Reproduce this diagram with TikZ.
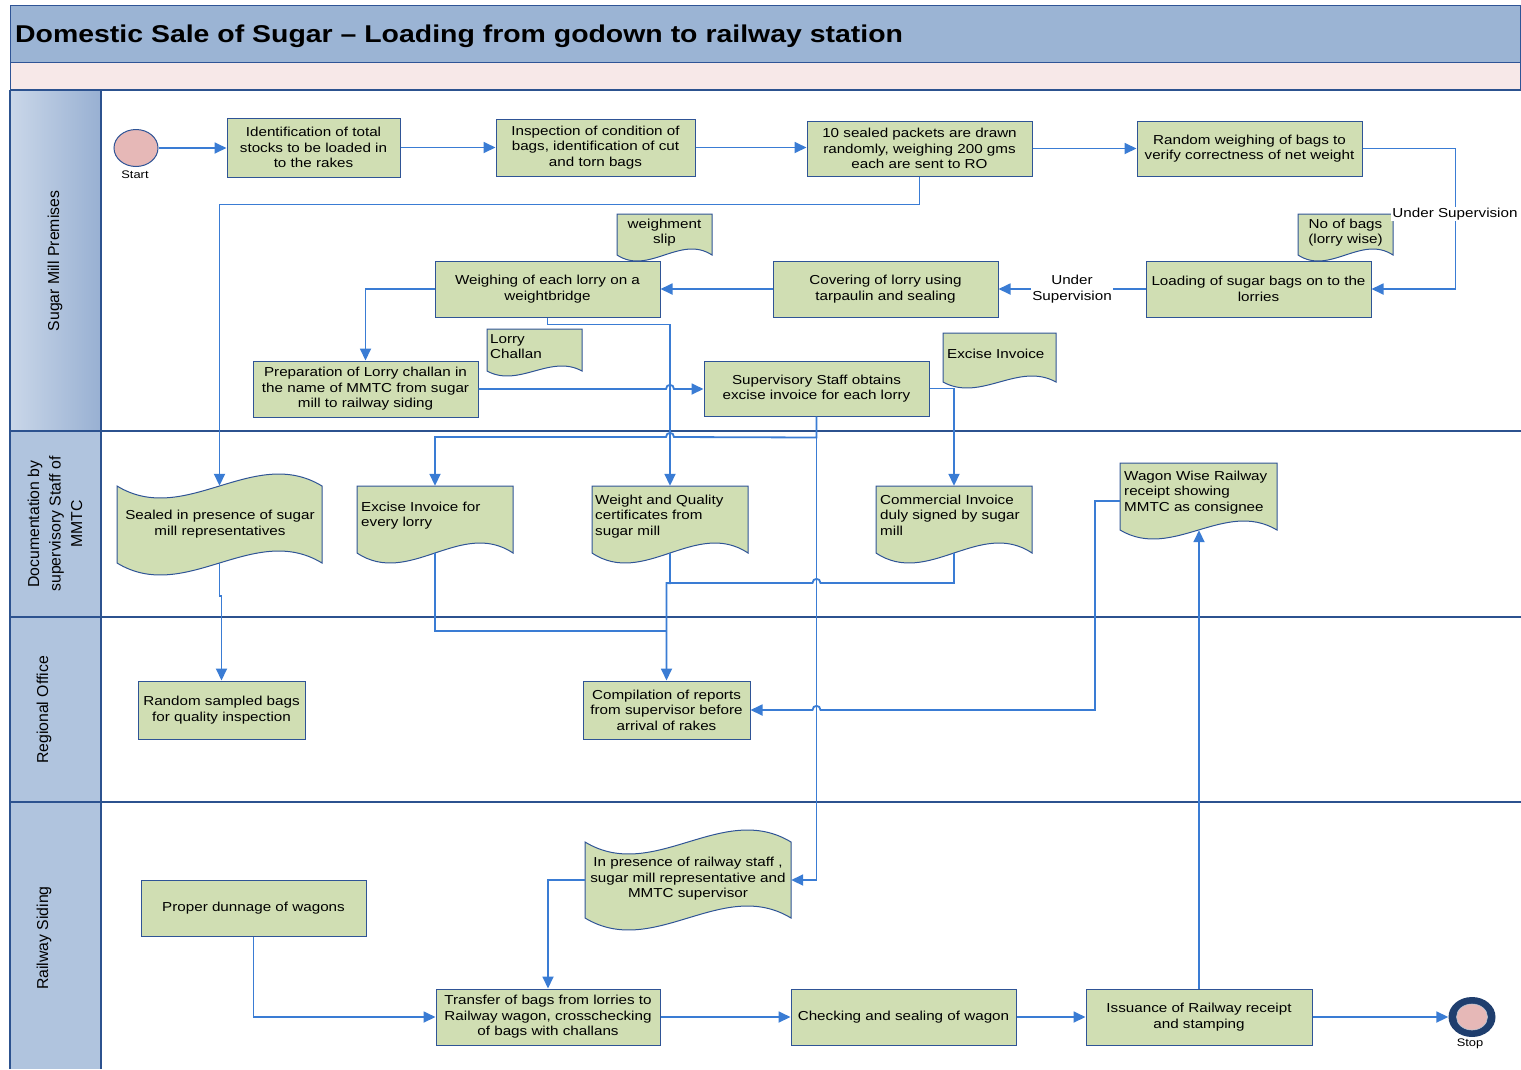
\documentclass[tikz,border=0pt]{standalone}
\usepackage{fontspec}
\setmainfont{Liberation Sans}[FakeStretch=1.17]
\newfontfamily\lanefont{Liberation Sans}
\usetikzlibrary{arrows.meta,fit,calc,shapes.geometric}

\definecolor{boxfill}{RGB}{208,222,179}
\definecolor{boxline}{RGB}{47,84,150}
\definecolor{flow}{RGB}{58,124,212}
\definecolor{lanehead}{RGB}{176,196,222}
\definecolor{laneheadlight}{RGB}{202,215,233}
\definecolor{laneheaddark}{RGB}{152,176,210}
\definecolor{laneline}{RGB}{44,82,143}
\definecolor{titlefill}{RGB}{155,180,212}
\definecolor{bandfill}{RGB}{247,232,232}
\definecolor{startfill}{RGB}{230,184,183}
\definecolor{stopring}{RGB}{31,62,110}

% process box from its corners (name, x1, y1, x2, y2, text)
\newcommand{\procbox}[6]{%
  \pgfmathsetmacro\bxw{#4-#2}%
  \pgfmathsetmacro\bxh{#5-#3}%
  \node[box, minimum width=\bxw pt, minimum height=\bxh pt] (#1) at ({(#2+#4)/2},{(#3+#5)/2}) {#6};
}
% document symbol: flat top, wavy bottom (name, x1, y1, x2, corner y, wave amplitude)
\newcommand{\docbody}[6]{%
  \path[docshape] (#2,#3) -- (#4,#3) -- (#4,#5)
    .. controls ({#2+2*(#4-#2)/3},{#5-3.46*#6}) and ({#2+(#4-#2)/3},{#5+3.46*#6}) .. (#2,#5) -- cycle;
  \node[area, fit={(#2,#3) (#4,#5)}] (#1) {};
}
% punched tape symbol: wavy top and bottom (name, x1, top y, x2, bottom y, amplitude)
\newcommand{\tapebody}[6]{%
  \path[docshape] (#2,#3)
    .. controls ({#2+(#4-#2)/3},{#3+3.46*#6}) and ({#2+2*(#4-#2)/3},{#3-3.46*#6}) .. (#4,#3)
    -- (#4,#5)
    .. controls ({#2+2*(#4-#2)/3},{#5-3.46*#6}) and ({#2+(#4-#2)/3},{#5+3.46*#6}) .. (#2,#5) -- cycle;
  \node[area, fit={(#2,#3) (#4,#5)}] (#1) {};
}

\begin{document}
\begin{tikzpicture}[x=1pt,y=-1pt,
  txt/.style={font=\fontsize{13}{15.5}\selectfont, text=black},
  box/.style={txt, draw=boxline, line width=1pt, fill=boxfill, inner sep=0pt, align=center},
  area/.style={inner sep=0pt},
  docshape/.style={draw=boxline, line width=1pt, fill=boxfill},
  doctext/.style={txt, inner sep=0pt, align=left, anchor=north west},
  doccenter/.style={txt, inner sep=0pt, align=center},
  conn/.style={draw=flow, line width=1.8pt, -{Triangle[length=12pt,width=11pt]}},
  link/.style={draw=flow, line width=1.8pt},
  lanesep/.style={draw=laneline, line width=2.2pt},
  lbl/.style={txt, fill=white, inner sep=1pt, align=center},
  small/.style={font=\fontsize{11}{13}\selectfont, inner sep=0pt},
  lanelabel/.style={rotate=90, font=\lanefont\fontsize{15.8}{21.5}\selectfont, align=center, inner sep=0pt},
  ]
\useasboundingbox (0,0) rectangle (1521,1069);
\clip (0,0) rectangle (1521,1069);

% heading band
\path[fill=titlefill, draw=boxline, line width=1pt] (10,5) rectangle (1520,62);
\node[anchor=base west, inner sep=0pt, font=\bfseries\fontsize{24.3}{28}\selectfont] (title) at (15,42)
  {Domestic Sale of Sugar – Loading from godown to railway station};
\path[fill=bandfill, draw=boxline, line width=0.8pt] (10,62) rectangle (1520,90);

% swimlane headers
\shade[left color=laneheadlight, right color=laneheaddark] (10,90) rectangle (101,431);
\fill[lanehead] (10,431) rectangle (101,1069);
\draw[lanesep] (10,90) -- (1521,90);
\draw[lanesep] (10,431) -- (1521,431);
\draw[lanesep] (10,617) -- (1521,617);
\draw[lanesep] (10,802) -- (1521,802);
\draw[lanesep] (10,90) -- (10,1069);
\draw[lanesep] (101,90) -- (101,1069);

\node[lanelabel] (lane1) at (55,261) {Sugar Mill Premises};
\node[lanelabel] (lane2) at (55,524) {Documentation by\\supervisory Staff of\\MMTC};
\node[lanelabel] (lane3) at (44,710) {Regional Office};
\node[lanelabel] (lane4) at (44,938) {Railway Siding};

% start / stop
\node[ellipse, draw=boxline, line width=1pt, fill=startfill, minimum width=44pt, minimum height=37pt, inner sep=0pt] (start) at (136,148) {};
\node[small] (startlbl) at (135,175) {Start};
\node[ellipse, fill=stopring, minimum width=47pt, minimum height=40pt, inner sep=0pt] (stop) at (1472,1017) {};
\node[ellipse, fill=startfill, draw=white!70!stopring, line width=0.6pt, minimum width=31pt, minimum height=26pt, inner sep=0pt] (stopin) at (1472,1017) {};
\node[small] (stoplbl) at (1470,1044) {Stop};

% process boxes
\procbox{n1}{227}{118}{400}{177}{Identification of total\\stocks to be loaded in\\to the rakes}
\procbox{n2}{496}{119}{695}{176}{Inspection of condition of\\bags, identification of cut\\and torn bags}
\procbox{n3}{807}{121}{1032}{176}{10 sealed packets are drawn\\randomly, weighing 200 gms\\each are sent to RO}
\procbox{n4}{1137}{121}{1362}{176}{Random weighing of bags to\\verify correctness of net weight}
\procbox{n5}{435}{261}{660}{317}{Weighing of each lorry on a\\weightbridge}
\procbox{n6}{773}{261}{998}{317}{Covering of lorry using\\tarpaulin and sealing}
\procbox{n7}{1146}{261}{1371}{317}{Loading of sugar bags on to the\\lorries}
\procbox{n8}{253}{361}{478}{417}{Preparation of Lorry challan in\\the name of MMTC from sugar\\mill to railway siding}
\procbox{n9}{704}{361}{929}{416}{Supervisory Staff obtains\\excise invoice for each lorry}
\procbox{n10}{138}{681}{305}{739}{Random sampled bags\\for quality inspection}
\procbox{n11}{583}{681}{750}{739}{Compilation of reports\\from supervisor before\\arrival of rakes}
\procbox{n12}{141}{880}{366}{936}{Proper dunnage of wagons}
\procbox{n13}{436}{989}{660}{1045}{Transfer of bags from lorries to\\Railway wagon, crosschecking\\of bags with challans}
\procbox{n14}{791}{989}{1016}{1045}{Checking and sealing of wagon}
\procbox{n15}{1086}{989}{1312}{1045}{Issuance of Railway receipt\\and stamping}

% documents
\docbody{dWS}{617}{214}{712}{255}{6}
\node[doccenter] (dWS-t) at (664.5,232.5) {weighment\\slip};
\docbody{dNB}{1298}{214}{1393}{255}{6}
\node[doccenter] (dNB-t) at (1345.5,232.5) {No of bags\\(lorry wise)};
\docbody{dLC}{487}{329}{582}{371}{5}
\node[doctext] (dLC-t) at (490,334) {Lorry\\Challan};
\docbody{dXI}{943}{333}{1056}{382}{6}
\node[doctext] (dXI-t) at (947,349) {Excise Invoice};
\docbody{dEI}{357}{486}{513}{553}{10}
\node[doctext] (dEI-t) at (361,501.5) {Excise Invoice for\\every lorry};
\docbody{dWQ}{592}{486}{748}{553}{10}
\node[doctext] (dWQ-t) at (595,494.5) {Weight and Quality\\certificates from\\sugar mill};
\docbody{dCI}{876}{486}{1032}{553}{10}
\node[doctext] (dCI-t) at (880,494.5) {Commercial Invoice\\duly signed by sugar\\mill};
\docbody{dWW}{1120}{463}{1277}{530}{9}
\node[doctext] (dWW-t) at (1124,470.5) {Wagon Wise Railway\\receipt showing\\MMTC as consignee};

% tapes
\tapebody{tSE}{117}{486}{322}{563}{12}
\node[doccenter] (tSE-t) at (220,524) {Sealed in presence of sugar\\mill representatives};
\tapebody{tIP}{585}{842}{791}{918}{12}
\node[doccenter] (tIP-t) at (688,879) {In presence of railway staff ,\\sugar mill representative and\\MMTC supervisor};

% connectors: sugar mill premises
\draw[conn] (start.east) -- (start.east -| n1.west);
\draw[conn] (n1.east) -- (n1.east -| n2.west);
\draw[conn] (n2.east) -- (n2.east -| n3.west);
\draw[conn] (n3.east) -- (n3.east -| n4.west);
\draw[conn] (n4.east) -- ++(93,0) |- (n7.east);
\draw[conn] (n7.west) -- (n6.east) node[midway, lbl] (us2) {Under\\Supervision};
\draw[conn] (n6.west) -- (n5.east);
\draw[conn] (n5.west) -| (n8.north);
\draw[conn] (n8.east) -- (666,389) .. controls (666,383.5) and (674,383.5) .. (674,389) -- (n9.west |- n8.east);
\draw[conn] (n5.south) -- ++(0,7) -| (dWQ.north);
\draw[conn] (n3.south) -- ++(0,28) -| (tSE.north);
\draw[conn] (n9.south) -- ++(0,21) -- (674,437) .. controls (674,431.5) and (666,431.5) .. (666,437) -| (dEI.north);
\draw[conn] (n9.south) |- (tIP.east);
\draw[conn] (n9.east) -| (dCI.north);
\node[lbl] (us1) at (1455,214) {Under Supervision};

% connectors: documentation and regional office
\draw[link] (dWQ.south) -- ++(0,30) -- (n11.north |- 0,583);
\draw[conn] (dCI.south) |- (820.5,583) .. controls (820.5,577.5) and (812.5,577.5) .. (812.5,583) -- (n11.north |- 0,583) -- (n11.north);
\draw[link] (dEI.south) |- (n11.north |- 0,631);
\draw[conn] (tSE.south) -- ++(0,33) -- ++(2,0) -- (n10.north);
\draw[conn] (dWW.west |- 0,501) -- (1095,501) -- (1095,710) -- (820.5,710) .. controls (820.5,704.5) and (812.5,704.5) .. (812.5,710) -- (n11.east |- 0,710);

% connectors: railway siding
\draw[conn] (n15.north) -- (n15.north |- dWW.south);
\draw[conn] (tIP.west) -| (n13.north);
\draw[conn] (n12.south) |- (n13.west);
\draw[conn] (n13.east) -- (n14.west);
\draw[conn] (n14.east) -- (n15.west);
\draw[conn] (n15.east) -- (stop.west);
\end{tikzpicture}
\end{document}
